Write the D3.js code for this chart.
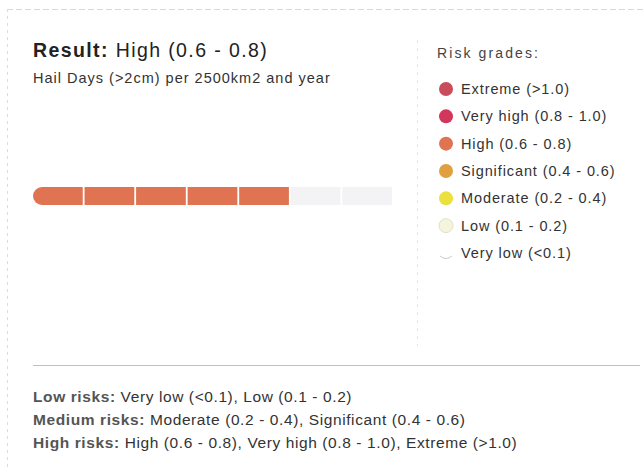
<!DOCTYPE html>
<html>
<head>
<meta charset="utf-8">
<script src="https://cdn.jsdelivr.net/npm/d3@7"></script>
<style>
  html, body { margin: 0; padding: 0; background: #fff; }
  svg { display: block; font-family: "Liberation Sans", Arial, sans-serif; }
</style>
</head>
<body>
<svg id="chart" width="643" height="470"></svg>
<script>
// Risk grades, lowest to highest
const grades = ["Very low", "Low", "Moderate", "Significant", "High", "Very high", "Extreme"];
const gradeRanges = ["(<0.1)", "(0.1 - 0.2)", "(0.2 - 0.4)", "(0.4 - 0.6)", "(0.6 - 0.8)", "(0.8 - 1.0)", "(>1.0)"];
const gradeColors = ["#ffffff", "#f4f5dc", "#ece03e", "#e0a040", "#e07452", "#d2365a", "#c94c5c"];
const resultGrade = "High";
const unit = "Hail Days (>2cm) per 2500km2 and year";
const groupLabels = ["Low risks:", "Medium risks:", "High risks:"];
const groupMembers = [["Very low", "Low"], ["Moderate", "Significant"], ["High", "Very high", "Extreme"]];

const svg = d3.select("#chart");
const resultIndex = grades.indexOf(resultGrade);
const rangeOf = g => gradeRanges[grades.indexOf(g)];

// panel frame and dividers
svg.append("line").attr("x1", 7).attr("x2", 643).attr("y1", 9.5).attr("y2", 9.5)
  .attr("stroke", "#d4d8de").attr("stroke-dasharray", "6,3");
svg.append("line").attr("x1", 7.5).attr("x2", 7.5).attr("y1", 9).attr("y2", 470)
  .attr("stroke", "#dcdcdc").attr("stroke-dasharray", "3,4");
svg.append("line").attr("x1", 417.5).attr("x2", 417.5).attr("y1", 40).attr("y2", 346)
  .attr("stroke", "#e2e4e8").attr("stroke-dasharray", "3,5");
svg.append("line").attr("x1", 33).attr("x2", 640).attr("y1", 365.5).attr("y2", 365.5)
  .attr("stroke", "#b8c2cc");

// title and unit
const title = svg.append("text").attr("x", 33).attr("y", 57)
  .attr("font-size", 19.5).attr("letter-spacing", 1.4).attr("fill", "#222");
title.append("tspan").attr("font-weight", "bold").text("Result:");
title.append("tspan").text(" " + resultGrade + " " + rangeOf(resultGrade));

svg.append("text").attr("x", 33).attr("y", 83).attr("font-size", 14.5)
  .attr("letter-spacing", 1.0).attr("fill", "#333").text(unit);

// segmented gauge: one segment per grade, filled up to the result grade
const x = d3.scaleBand().domain(grades).range([33, 392]).paddingInner(0.035);
const barY = 187, barH = 18, cap = 9;

function segmentPath(d, i) {
  const x0 = x(d), x1 = x0 + x.bandwidth(), y0 = barY, y1 = barY + barH;
  if (i > 0) return `M${x0},${y0}H${x1}V${y1}H${x0}Z`;
  const p = d3.path();
  p.moveTo(x0 + cap, y0);
  p.lineTo(x1, y0);
  p.lineTo(x1, y1);
  p.lineTo(x0 + cap, y1);
  p.arc(x0 + cap, y0 + barH / 2, barH / 2, Math.PI / 2, 3 * Math.PI / 2);
  p.closePath();
  return p.toString();
}

svg.append("g").selectAll("path")
  .data(grades)
  .join("path")
  .attr("d", segmentPath)
  .attr("fill", (d, i) => i <= resultIndex ? gradeColors[resultIndex] : "#f3f3f5");

// legend, highest grade first
const lg = svg.append("g");
lg.append("text").attr("x", 437).attr("y", 58).attr("font-size", 14)
  .attr("fill", "#444").attr("letter-spacing", 2.1).text("Risk grades:");

const legendOrder = grades.slice().reverse();
const ly = d3.scalePoint().domain(legendOrder).range([89, 253]);
const item = lg.selectAll("g.item").data(legendOrder).join("g")
  .attr("class", "item")
  .attr("transform", d => `translate(0,${ly(d)})`);
item.append("circle").attr("cx", 446).attr("cy", 0).attr("r", 7)
  .attr("fill", d => gradeColors[grades.indexOf(d)])
  .attr("stroke", d => d === "Low" ? "#dfe2c8" : "none");
item.filter(d => d === "Very low").append("path")
  .attr("d", "M440,3 Q446,8 452,3").attr("fill", "none").attr("stroke", "#ccc");
item.append("text").attr("x", 461).attr("y", 5).attr("font-size", 14.5)
  .attr("letter-spacing", 0.9).attr("fill", "#333")
  .text(d => d + " " + rangeOf(d));

// grade groups
const gy = d3.scalePoint().domain(groupLabels).range([402, 448]);
const rows = svg.selectAll("text.group").data(groupLabels).join("text")
  .attr("class", "group")
  .attr("x", 33).attr("y", d => gy(d)).attr("font-size", 15.5)
  .attr("letter-spacing", 0.6).attr("fill", "#333");
rows.append("tspan").attr("font-weight", "bold").attr("fill", "#555").text(d => d);
rows.append("tspan").text((d, i) => " " + groupMembers[i]
  .map(g => g + " " + rangeOf(g)).join(", "));
</script>
</body>
</html>
